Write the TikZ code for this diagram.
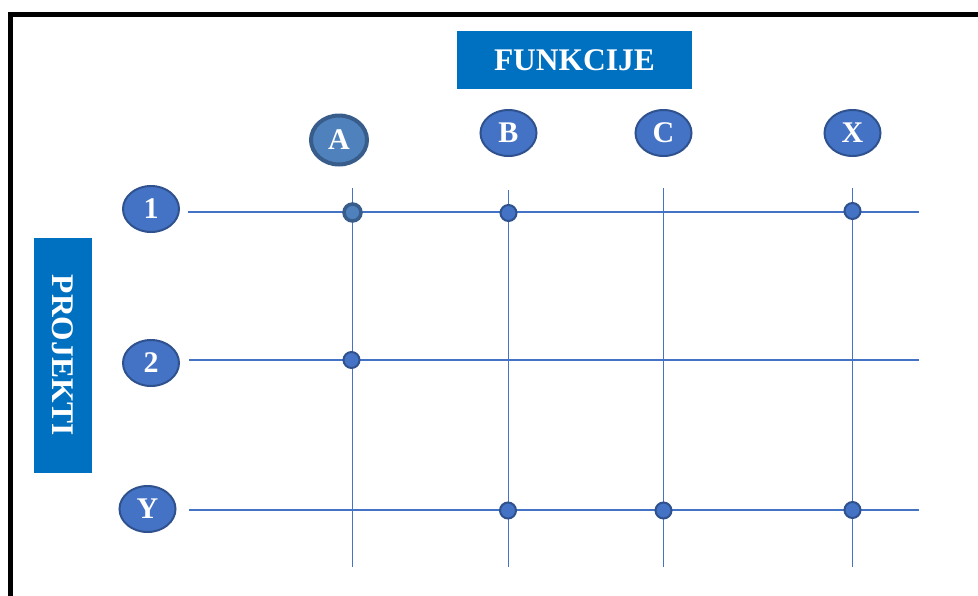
\documentclass[tikz,border=0pt]{standalone}
\usepackage{fontspec}
\setmainfont{Liberation Serif}
\usetikzlibrary{shapes.geometric}
\definecolor{boxblue}{HTML}{0070C0}
\definecolor{elfill}{HTML}{4472C4}
\definecolor{eldraw}{HTML}{2F528F}
\definecolor{afill}{HTML}{4F81BD}
\definecolor{adraw}{HTML}{385D8A}
\definecolor{gridc}{HTML}{4472C4}
\tikzset{
  titlefont/.style={font=\bfseries\fontsize{31.5}{31.5}\selectfont},
  titlebox/.style={fill=boxblue, text=white, titlefont, inner sep=0pt},
  label/.style={ellipse, fill=elfill, draw=eldraw, line width=2pt, minimum width=56pt, minimum height=46pt, inner sep=0pt, text=white, font=\bfseries\fontsize{30}{30}\selectfont},
  alabel/.style={label, fill=afill, draw=adraw, line width=4pt, minimum width=56pt, minimum height=49pt},
  gridline/.style={draw=gridc, line width=1.4pt},
  dotc/.style={circle, fill=elfill, draw=eldraw, line width=2pt, minimum size=16pt, inner sep=0pt},
  adot/.style={dotc, fill=afill, draw=adraw, line width=3.5pt, minimum size=17pt},
}
\begin{document}
\begin{tikzpicture}[x=1pt, y=-1pt]
\useasboundingbox (0,0) rectangle (978,595);
\clip (0,0) rectangle (978,595);
% border
\coordinate (b1) at (10.8,600);
\coordinate (b2) at (10.8,14.5);
\coordinate (b3) at (990,14.5);
\draw[line width=5pt, black] (b1) -- (b2) -- (b3);
% title boxes
\node[titlebox, minimum width=235pt, minimum height=58pt] (fun) at (574.5,60) {FUNKCIJE};
\node[titlebox, minimum width=58pt, minimum height=235pt] (proj) at (62.8,355.5) {};
\node[text=white, titlefont, rotate=-90, inner sep=0pt] (projt) at (proj.center) {PROJEKTI};
% grid line end points
\coordinate (h1a) at (188,212); \coordinate (h1b) at (919,212);
\coordinate (h2a) at (189,360); \coordinate (h2b) at (919,360);
\coordinate (h3a) at (189,510); \coordinate (h3b) at (919,510);
\coordinate (vAa) at (352.5,188); \coordinate (vAb) at (352.5,567);
\coordinate (vBa) at (508.5,190); \coordinate (vBb) at (508.5,567);
\coordinate (vCa) at (663.5,188); \coordinate (vCb) at (663.5,567);
\coordinate (vXa) at (852.5,188); \coordinate (vXb) at (852.5,567);
\draw[gridline] (h1a) -- (h1b);
\draw[gridline] (h2a) -- (h2b);
\draw[gridline] (h3a) -- (h3b);
\draw[gridline] (vAa) -- (vAb);
\draw[gridline] (vBa) -- (vBb);
\draw[gridline] (vCa) -- (vCb);
\draw[gridline] (vXa) -- (vXb);
% column labels
\node[alabel] (A) at (339,140) {A};
\node[label] (B) at (508.5,133) {B};
\node[label] (C) at (663.5,133) {C};
\node[label] (X) at (852.5,133) {X};
% row labels
\node[label] (r1) at (151,209) {1};
\node[label] (r2) at (151,363) {2};
\node[label] (rY) at (147.5,509) {Y};
% dots
\node[adot] (dA1) at (352.5,212.5) {};
\node[dotc] (dB1) at (508.5,213) {};
\node[dotc] (dX1) at (852.5,211) {};
\node[dotc] (dA2) at (351.5,360) {};
\node[dotc] (dBY) at (508,510.5) {};
\node[dotc] (dCY) at (663.5,510.5) {};
\node[dotc] (dXY) at (852.5,510) {};
\end{tikzpicture}
\end{document}
